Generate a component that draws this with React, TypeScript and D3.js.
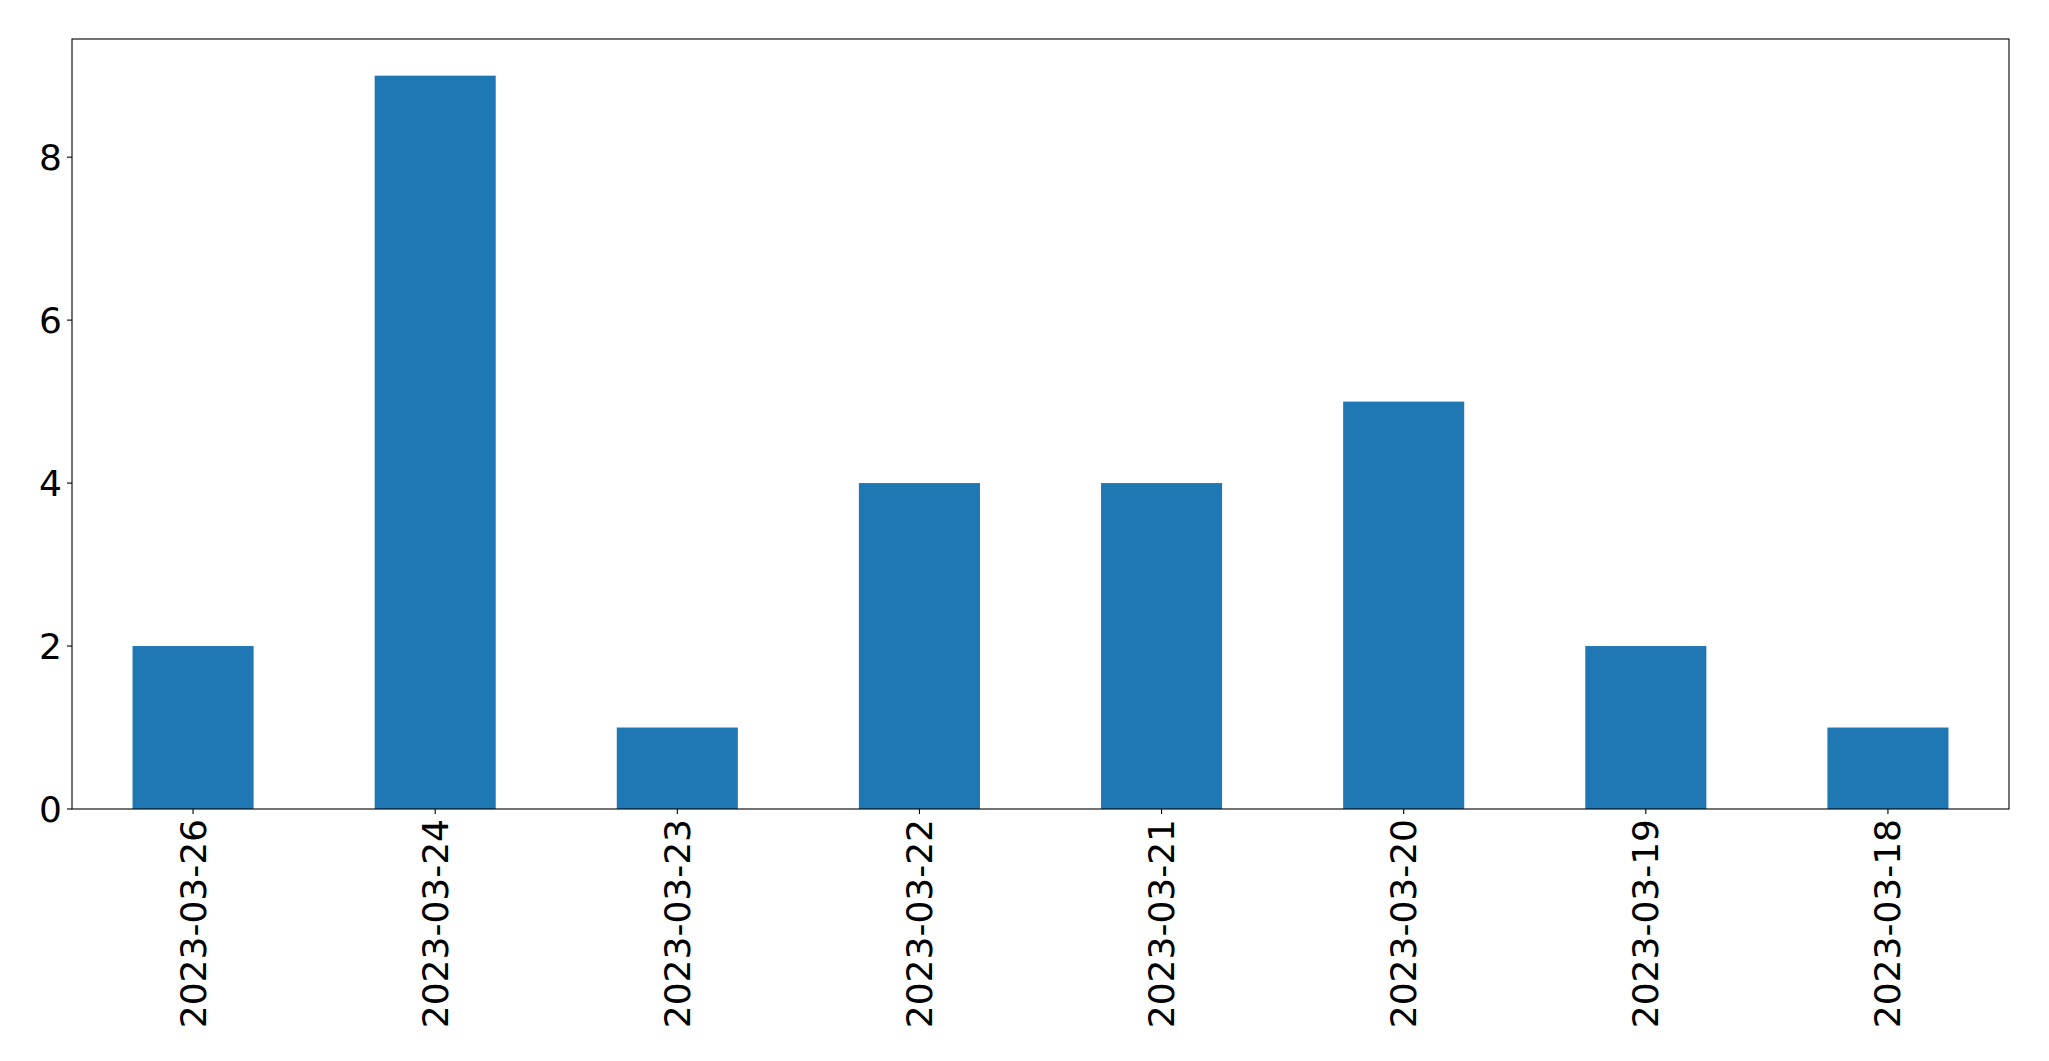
import React from "react";
import * as d3 from "d3";

const categories: string[] = [
  "2023-03-26",
  "2023-03-24",
  "2023-03-23",
  "2023-03-22",
  "2023-03-21",
  "2023-03-20",
  "2023-03-19",
  "2023-03-18",
];
const counts: number[] = [2, 9, 1, 4, 4, 5, 2, 1];
const yTicks: number[] = [0, 2, 4, 6, 8];

const W = 2049;
const H = 1061;
const M = { left: 72, right: 2009, top: 39, bottom: 809 };
const FONT = "'DejaVu Sans', sans-serif";
const FS = 36;

export default function App() {
  const x = d3
    .scaleLinear()
    .domain([-0.5, categories.length - 0.5])
    .range([M.left, M.right]);
  const yMax = d3.max(counts)! * 1.05;
  const y = d3.scaleLinear().domain([0, yMax]).range([M.bottom, M.top]);
  const bw = x(0.5) - x(0);

  return (
    <div style={{ position: "absolute", left: 0, top: 0 }}>
      <svg width={W} height={H} style={{ display: "block", background: "#fff" }}>
        <rect x={0} y={0} width={W} height={H} fill="#fff" />
        {counts.map((v, i) => (
          <rect
            key={i}
            x={x(i) - bw / 2}
            y={y(v)}
            width={bw}
            height={y(0) - y(v)}
            fill="#1f77b4"
          />
        ))}
        <rect
          x={M.left}
          y={M.top}
          width={M.right - M.left}
          height={M.bottom - M.top}
          fill="none"
          stroke="#000"
          strokeWidth={1.1}
        />
        {yTicks.map((t) => (
          <g key={t}>
            <line x1={M.left - 5} x2={M.left} y1={y(t)} y2={y(t)} stroke="#000" strokeWidth={1.1} />
            <text
              x={M.left - 10}
              y={y(t)}
              textAnchor="end"
              dominantBaseline="central"
              fontFamily={FONT}
              fontSize={FS}
              fill="#000"
            >
              {t}
            </text>
          </g>
        ))}
        {categories.map((c, i) => (
          <g key={c}>
            <line x1={x(i)} x2={x(i)} y1={M.bottom} y2={M.bottom + 5} stroke="#000" strokeWidth={1.1} />
            <text
              transform={`translate(${x(i)},${M.bottom + 10}) rotate(-90)`}
              textAnchor="end"
              dominantBaseline="central"
              fontFamily={FONT}
              fontSize={FS}
              fill="#000"
            >
              {c}
            </text>
          </g>
        ))}
      </svg>
    </div>
  );
}
